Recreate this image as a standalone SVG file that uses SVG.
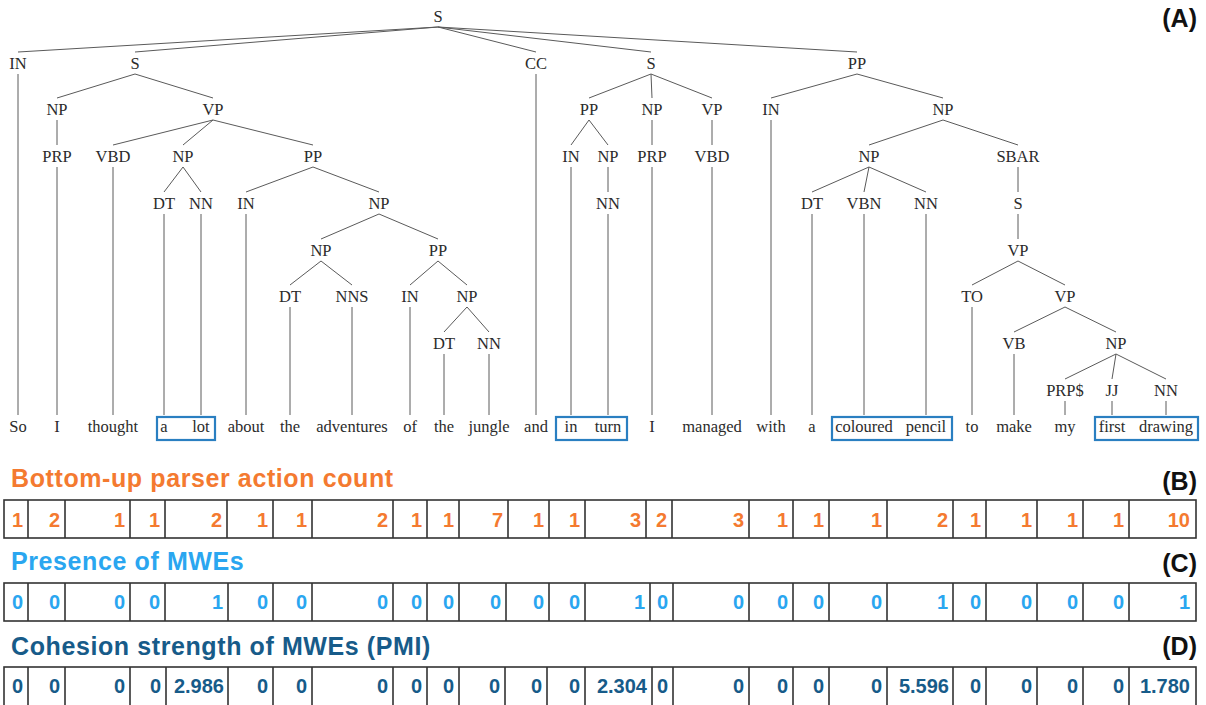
<svg xmlns="http://www.w3.org/2000/svg" width="1206" height="705" viewBox="0 0 1206 705">
<style>
.t{font-family:"Liberation Serif","DejaVu Serif",serif;font-size:16.5px;fill:#2b2b2b;text-anchor:middle}
.c line{stroke:#5a5a5a;stroke-width:1}
.box{fill:none;stroke:#2a7fc1;stroke-width:2.2}
.h{font-family:"Liberation Sans",Arial,sans-serif;font-weight:bold;font-size:25px;letter-spacing:0.6px}
.lab{font-family:"Liberation Sans",Arial,sans-serif;font-weight:bold;font-size:25px;fill:#111;text-anchor:end}
.v{font-family:"Liberation Sans",Arial,sans-serif;font-weight:bold;font-size:20px;text-anchor:end}
.grid rect,.grid line{fill:none;stroke:#333;stroke-width:1.6}
.or{fill:#f47a30}.lb{fill:#2aa6f0}.db{fill:#175b89}
</style>
<rect width="1206" height="705" fill="#fff"/>
<g id="connectors" class="c">
<line x1="438" y1="27" x2="18" y2="52"/><line x1="438" y1="27" x2="135" y2="52"/><line x1="438" y1="27" x2="536" y2="52"/><line x1="438" y1="27" x2="651" y2="52"/><line x1="438" y1="27" x2="857" y2="52"/>
<line x1="18" y1="74" x2="18" y2="415"/>
<line x1="135" y1="74" x2="57" y2="98"/><line x1="135" y1="74" x2="213" y2="98"/>
<line x1="57" y1="120" x2="57" y2="145"/><line x1="57" y1="167" x2="57" y2="415"/>
<line x1="213" y1="120" x2="113" y2="145"/><line x1="213" y1="120" x2="183" y2="145"/><line x1="213" y1="120" x2="313" y2="145"/>
<line x1="113" y1="167" x2="113" y2="415"/>
<line x1="183" y1="167" x2="164" y2="192"/><line x1="183" y1="167" x2="201" y2="192"/>
<line x1="164" y1="214" x2="164" y2="415"/><line x1="201" y1="214" x2="201" y2="415"/>
<line x1="313" y1="167" x2="246" y2="192"/><line x1="313" y1="167" x2="379" y2="192"/>
<line x1="246" y1="214" x2="246" y2="415"/>
<line x1="379" y1="214" x2="321" y2="239"/><line x1="379" y1="214" x2="438" y2="239"/>
<line x1="321" y1="261" x2="290" y2="285"/><line x1="321" y1="261" x2="352" y2="285"/>
<line x1="290" y1="307" x2="290" y2="415"/><line x1="352" y1="307" x2="352" y2="415"/>
<line x1="438" y1="261" x2="410" y2="285"/><line x1="438" y1="261" x2="467" y2="285"/>
<line x1="410" y1="307" x2="410" y2="415"/>
<line x1="467" y1="307" x2="444" y2="332"/><line x1="467" y1="307" x2="489" y2="332"/>
<line x1="444" y1="354" x2="444" y2="415"/><line x1="489" y1="354" x2="489" y2="415"/>
<line x1="536" y1="74" x2="536" y2="415"/>
<line x1="651" y1="74" x2="589" y2="98"/><line x1="651" y1="74" x2="652" y2="98"/><line x1="651" y1="74" x2="712" y2="98"/>
<line x1="589" y1="120" x2="571" y2="145"/><line x1="589" y1="120" x2="608" y2="145"/>
<line x1="571" y1="167" x2="571" y2="415"/>
<line x1="608" y1="167" x2="608" y2="192"/><line x1="608" y1="214" x2="608" y2="415"/>
<line x1="652" y1="120" x2="652" y2="145"/><line x1="652" y1="167" x2="652" y2="415"/>
<line x1="712" y1="120" x2="712" y2="145"/><line x1="712" y1="167" x2="712" y2="415"/>
<line x1="857" y1="74" x2="771" y2="98"/><line x1="857" y1="74" x2="943" y2="98"/>
<line x1="771" y1="120" x2="771" y2="415"/>
<line x1="943" y1="120" x2="869" y2="145"/><line x1="943" y1="120" x2="1018" y2="145"/>
<line x1="869" y1="167" x2="812" y2="192"/><line x1="869" y1="167" x2="864" y2="192"/><line x1="869" y1="167" x2="926" y2="192"/>
<line x1="812" y1="214" x2="812" y2="415"/><line x1="864" y1="214" x2="864" y2="415"/><line x1="926" y1="214" x2="926" y2="415"/>
<line x1="1018" y1="167" x2="1018" y2="192"/><line x1="1018" y1="214" x2="1018" y2="239"/>
<line x1="1018" y1="261" x2="972" y2="285"/><line x1="1018" y1="261" x2="1065" y2="285"/>
<line x1="972" y1="307" x2="972" y2="415"/>
<line x1="1065" y1="307" x2="1014" y2="332"/><line x1="1065" y1="307" x2="1116" y2="332"/>
<line x1="1014" y1="354" x2="1014" y2="415"/>
<line x1="1116" y1="354" x2="1065" y2="379"/><line x1="1116" y1="354" x2="1112" y2="379"/><line x1="1116" y1="354" x2="1166" y2="379"/>
<line x1="1065" y1="401" x2="1065" y2="415"/><line x1="1112" y1="401" x2="1112" y2="415"/><line x1="1166" y1="401" x2="1166" y2="415"/>
</g>
<g id="tree-nodes" class="t">
<g id="n-S0"><text x="438" y="21.5">S</text></g>
<g id="n-IN1"><text x="18" y="68.5">IN</text></g>
<g id="n-S1"><text x="135" y="68.5">S</text></g>
<g id="n-CC1"><text x="536" y="68.5">CC</text></g>
<g id="n-S2"><text x="651" y="68.5">S</text></g>
<g id="n-PP1"><text x="857" y="68.5">PP</text></g>
<g id="n-NP1"><text x="57" y="114.5">NP</text></g>
<g id="n-VP1"><text x="213" y="114.5">VP</text></g>
<g id="n-PP2"><text x="589" y="114.5">PP</text></g>
<g id="n-NP2"><text x="652" y="114.5">NP</text></g>
<g id="n-VP2"><text x="712" y="114.5">VP</text></g>
<g id="n-IN2"><text x="771" y="114.5">IN</text></g>
<g id="n-NP3"><text x="943" y="114.5">NP</text></g>
<g id="n-PRP1"><text x="57" y="161.5">PRP</text></g>
<g id="n-VBD1"><text x="113" y="161.5">VBD</text></g>
<g id="n-NP4"><text x="183" y="161.5">NP</text></g>
<g id="n-PP3"><text x="313" y="161.5">PP</text></g>
<g id="n-IN3"><text x="571" y="161.5">IN</text></g>
<g id="n-NP5"><text x="608" y="161.5">NP</text></g>
<g id="n-PRP2"><text x="652" y="161.5">PRP</text></g>
<g id="n-VBD2"><text x="712" y="161.5">VBD</text></g>
<g id="n-NP6"><text x="869" y="161.5">NP</text></g>
<g id="n-SBAR"><text x="1018" y="161.5">SBAR</text></g>
<g id="n-DT1"><text x="164" y="208.5">DT</text></g>
<g id="n-NN1"><text x="201" y="208.5">NN</text></g>
<g id="n-IN4"><text x="246" y="208.5">IN</text></g>
<g id="n-NP7"><text x="379" y="208.5">NP</text></g>
<g id="n-NN2"><text x="608" y="208.5">NN</text></g>
<g id="n-DT2"><text x="812" y="208.5">DT</text></g>
<g id="n-VBN"><text x="864" y="208.5">VBN</text></g>
<g id="n-NN3"><text x="926" y="208.5">NN</text></g>
<g id="n-S3"><text x="1018" y="208.5">S</text></g>
<g id="n-NP8"><text x="321" y="255.5">NP</text></g>
<g id="n-PP4"><text x="438" y="255.5">PP</text></g>
<g id="n-VP3"><text x="1018" y="255.5">VP</text></g>
<g id="n-DT3"><text x="290" y="301.5">DT</text></g>
<g id="n-NNS"><text x="352" y="301.5">NNS</text></g>
<g id="n-IN5"><text x="410" y="301.5">IN</text></g>
<g id="n-NP9"><text x="467" y="301.5">NP</text></g>
<g id="n-TO"><text x="972" y="301.5">TO</text></g>
<g id="n-VP4"><text x="1065" y="301.5">VP</text></g>
<g id="n-DT4"><text x="444" y="348.5">DT</text></g>
<g id="n-NN4"><text x="489" y="348.5">NN</text></g>
<g id="n-VB"><text x="1014" y="348.5">VB</text></g>
<g id="n-NP10"><text x="1116" y="348.5">NP</text></g>
<g id="n-PRPS"><text x="1065" y="395.5">PRP$</text></g>
<g id="n-JJ"><text x="1112" y="395.5">JJ</text></g>
<g id="n-NN5"><text x="1166" y="395.5">NN</text></g>
</g>
<g id="words" class="t">
<text x="18" y="432">So</text><text x="57" y="432">I</text><text x="113" y="432">thought</text><text x="164" y="432">a</text><text x="201" y="432">lot</text><text x="246" y="432">about</text><text x="290" y="432">the</text><text x="352" y="432">adventures</text><text x="410" y="432">of</text><text x="444" y="432">the</text><text x="489" y="432">jungle</text><text x="536" y="432">and</text><text x="571" y="432">in</text><text x="608" y="432">turn</text><text x="652" y="432">I</text><text x="712" y="432">managed</text><text x="771" y="432">with</text><text x="812" y="432">a</text><text x="864" y="432">coloured</text><text x="926" y="432">pencil</text><text x="972" y="432">to</text><text x="1014" y="432">make</text><text x="1065" y="432">my</text><text x="1112" y="432">first</text><text x="1166" y="432">drawing</text>
</g>
<g id="mwe-boxes">
<rect class="box" x="157" y="417" width="58" height="23"/>
<rect class="box" x="556" y="417" width="71" height="23"/>
<rect class="box" x="832" y="417" width="120" height="23"/>
<rect class="box" x="1095" y="417" width="103" height="23"/>
</g>
<text class="lab" x="1197" y="27">(A)</text>
<g id="panel-B">
<text class="h or" x="11" y="487">Bottom-up parser action count</text>
<text class="lab" x="1197" y="490">(B)</text>
<g class="grid"><rect x="4" y="500" width="1192" height="38"/>
<path d="M28 500V538M65 500V538M130 500V538M165 500V538M227 500V538M273 500V538M312 500V538M393 500V538M427 500V538M459 500V538M508 500V538M549 500V538M585 500V538M646 500V538M672 500V538M749 500V538M793 500V538M829 500V538M887 500V538M953 500V538M986 500V538M1037 500V538M1083 500V538M1129 500V538" stroke="#333" stroke-width="1.6" fill="none"/></g>
<g class="v or">
<text x="23" y="527">1</text><text x="60" y="527">2</text><text x="125" y="527">1</text><text x="160" y="527">1</text><text x="222" y="527">2</text><text x="268" y="527">1</text><text x="307" y="527">1</text><text x="388" y="527">2</text><text x="422" y="527">1</text><text x="454" y="527">1</text><text x="503" y="527">7</text><text x="544" y="527">1</text><text x="580" y="527">1</text><text x="641" y="527">3</text><text x="667" y="527">2</text><text x="744" y="527">3</text><text x="788" y="527">1</text><text x="824" y="527">1</text><text x="882" y="527">1</text><text x="948" y="527">2</text><text x="981" y="527">1</text><text x="1032" y="527">1</text><text x="1078" y="527">1</text><text x="1124" y="527">1</text><text x="1190" y="527">10</text>
</g>
</g>
<g id="panel-C">
<text class="h lb" x="11" y="570">Presence of MWEs</text>
<text class="lab" x="1197" y="572">(C)</text>
<g class="grid"><rect x="4" y="583" width="1192" height="38"/>
<path d="M28 583V621M65 583V621M130 583V621M165 583V621M228 583V621M273 583V621M312 583V621M393 583V621M427 583V621M459 583V621M506 583V621M549 583V621M585 583V621M650 583V621M673 583V621M749 583V621M793 583V621M829 583V621M887 583V621M953 583V621M986 583V621M1037 583V621M1083 583V621M1129 583V621" stroke="#333" stroke-width="1.6" fill="none"/></g>
<g class="v lb">
<text x="23" y="609">0</text><text x="60" y="609">0</text><text x="125" y="609">0</text><text x="160" y="609">0</text><text x="223" y="609">1</text><text x="268" y="609">0</text><text x="307" y="609">0</text><text x="388" y="609">0</text><text x="422" y="609">0</text><text x="454" y="609">0</text><text x="501" y="609">0</text><text x="544" y="609">0</text><text x="580" y="609">0</text><text x="645" y="609">1</text><text x="668" y="609">0</text><text x="744" y="609">0</text><text x="788" y="609">0</text><text x="824" y="609">0</text><text x="882" y="609">0</text><text x="948" y="609">1</text><text x="981" y="609">0</text><text x="1032" y="609">0</text><text x="1078" y="609">0</text><text x="1124" y="609">0</text><text x="1190" y="609">1</text>
</g>
</g>
<g id="panel-D">
<text class="h db" x="11" y="655">Cohesion strength of MWEs (PMI)</text>
<text class="lab" x="1197" y="655">(D)</text>
<g class="grid"><rect x="4" y="667" width="1192" height="42"/>
<path d="M28 667V705M65 667V705M130 667V705M166 667V705M228 667V705M273 667V705M312 667V705M393 667V705M427 667V705M459 667V705M505 667V705M547 667V705M585 667V705M652 667V705M673 667V705M749 667V705M793 667V705M829 667V705M887 667V705M953 667V705M986 667V705M1037 667V705M1083 667V705M1129 667V705" stroke="#333" stroke-width="1.6" fill="none"/></g>
<g class="v db">
<text x="23" y="693">0</text><text x="60" y="693">0</text><text x="125" y="693">0</text><text x="161" y="693">0</text><text x="224" y="693">2.986</text><text x="268" y="693">0</text><text x="307" y="693">0</text><text x="388" y="693">0</text><text x="422" y="693">0</text><text x="454" y="693">0</text><text x="500" y="693">0</text><text x="542" y="693">0</text><text x="580" y="693">0</text><text x="647" y="693">2.304</text><text x="668" y="693">0</text><text x="744" y="693">0</text><text x="788" y="693">0</text><text x="824" y="693">0</text><text x="882" y="693">0</text><text x="949" y="693">5.596</text><text x="981" y="693">0</text><text x="1032" y="693">0</text><text x="1078" y="693">0</text><text x="1124" y="693">0</text><text x="1190" y="693">1.780</text>
</g>
</g>
</svg>
